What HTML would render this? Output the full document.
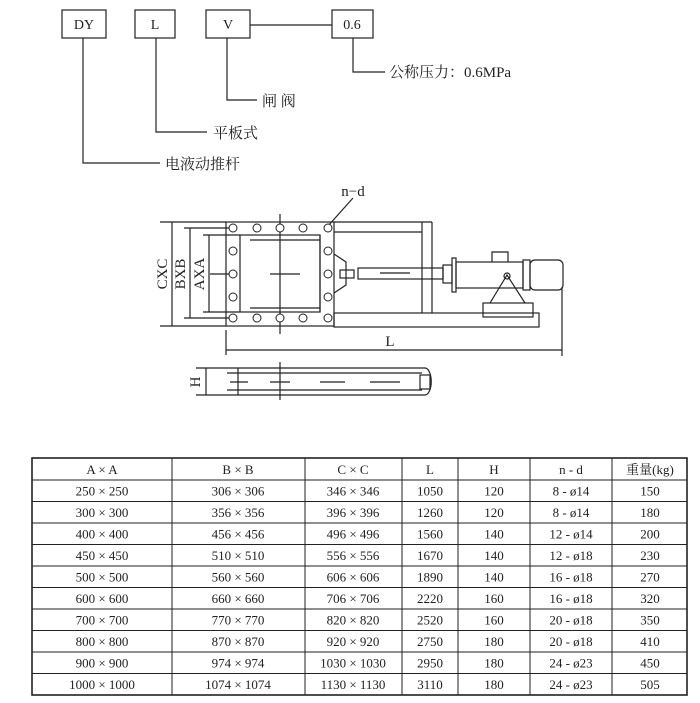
<!DOCTYPE html>
<html><head><meta charset="utf-8"><style>
body{margin:0;background:#fff;width:700px;height:703px;overflow:hidden}
svg{display:block}
text{font-family:"Liberation Serif","Noto Serif CJK SC",serif;fill:#222}
</style></head><body>
<svg width="700" height="703" viewBox="0 0 700 703" xmlns="http://www.w3.org/2000/svg">
<g fill="none" stroke="#222" stroke-width="1.2">
<rect x="62" y="10" width="44" height="28"/>
<rect x="135" y="10" width="40" height="28"/>
<rect x="206" y="10" width="44" height="28"/>
<rect x="332" y="10" width="41" height="28"/>
<line x1="250" y1="25" x2="332" y2="25"/>
<polyline points="83,38 83,163 160,163"/>
<polyline points="156,38 156,132 207,132"/>
<polyline points="227,38 227,100 257,100"/>
<polyline points="353,38 353,72 385,72"/>
</g>
<g font-size="14" text-anchor="middle">
<text x="84" y="29">DY</text><text x="155" y="29">L</text><text x="228" y="29">V</text><text x="352" y="29">0.6</text>
</g>
<g font-size="15">
<text x="389" y="77">公称压力：0.6MPa</text>
<text x="262" y="106">闸 阀</text>
<text x="213" y="138">平板式</text>
<text x="165" y="169">电液动推杆</text>
</g>

<g fill="none" stroke="#222" stroke-width="1.2">
<rect x="226" y="222" width="108" height="104"/>
<rect x="240" y="235" width="80" height="77"/>
<line x1="320" y1="235" x2="320" y2="312"/>
<line x1="250" y1="240" x2="320" y2="240"/><line x1="250" y1="308" x2="320" y2="308"/>
<line x1="334" y1="222" x2="432" y2="222"/>
<line x1="422" y1="222" x2="422" y2="313"/><line x1="432" y1="222" x2="432" y2="313"/>
<line x1="334" y1="232" x2="422" y2="232"/>
<rect x="334" y="313" width="205" height="14"/>
<polyline points="334,254 346,262 346,285 334,293"/>
<rect x="340" y="270" width="14" height="8"/>
<rect x="358" y="268" width="85" height="11"/>
<line x1="380" y1="273" x2="410" y2="273"/>
<rect x="443" y="265" width="9" height="18"/>
<rect x="452" y="258" width="4" height="34"/>
<rect x="456" y="262" width="67" height="26"/>
<path d="M492,262 v-10 h16 v10"/>
<rect x="523" y="260" width="7" height="30"/>
<rect x="530" y="260" width="33" height="30" rx="5"/>
<polyline points="490,303 507,275 525,303"/>
<circle cx="507" cy="276" r="3"/>
<rect x="483" y="303" width="50" height="14"/>
<line x1="172" y1="222" x2="172" y2="326"/>
<line x1="160" y1="222" x2="226" y2="222"/><line x1="160" y1="326" x2="226" y2="326"/>
<line x1="190" y1="228" x2="190" y2="318"/>
<line x1="184" y1="228" x2="230" y2="228"/><line x1="184" y1="318" x2="230" y2="318"/>
<line x1="209" y1="235" x2="209" y2="312"/>
<line x1="203" y1="235" x2="240" y2="235"/><line x1="203" y1="312" x2="240" y2="312"/>
<line x1="226" y1="330" x2="226" y2="355"/><line x1="562" y1="287" x2="562" y2="356"/>
<line x1="226" y1="350" x2="562" y2="350"/>
<line x1="280" y1="214" x2="280" y2="334"/>
<line x1="270" y1="274" x2="300" y2="274"/>
<line x1="210" y1="274" x2="236" y2="274"/>
<line x1="353" y1="198" x2="328" y2="226"/>
<path d="M227,368 H425 a6,13 0 0 1 0,27 H227"/>
<line x1="227" y1="373" x2="422" y2="373"/><line x1="227" y1="390" x2="422" y2="390"/>
<line x1="238" y1="368" x2="238" y2="395"/>
<rect x="420" y="375" width="10" height="14"/>
<line x1="196" y1="368" x2="227" y2="368"/><line x1="196" y1="395" x2="227" y2="395"/>
<line x1="206" y1="368" x2="206" y2="395"/>
<line x1="280" y1="362" x2="280" y2="400"/>
<line x1="230" y1="382" x2="248" y2="382"/><line x1="270" y1="382" x2="290" y2="382"/>
<line x1="320" y1="382" x2="345" y2="382"/><line x1="370" y1="382" x2="400" y2="382"/>
</g>
<g fill="#fff" stroke="#222" stroke-width="1">
<circle cx="233" cy="228" r="4"/><circle cx="257" cy="228" r="4"/><circle cx="280" cy="228" r="4"/><circle cx="303" cy="228" r="4"/><circle cx="328" cy="228" r="4"/>
<circle cx="233" cy="318" r="4"/><circle cx="257" cy="318" r="4"/><circle cx="280" cy="318" r="4"/><circle cx="303" cy="318" r="4"/><circle cx="328" cy="318" r="4"/>
<circle cx="233" cy="251" r="4"/><circle cx="233" cy="274" r="4"/><circle cx="233" cy="297" r="4"/>
<circle cx="328" cy="251" r="4"/><circle cx="328" cy="274" r="4"/><circle cx="328" cy="297" r="4"/>
</g>
<g font-size="15" text-anchor="middle">
<text x="353" y="196">n−d</text>
<text x="390" y="346">L</text>
<text transform="translate(167,274) rotate(-90)">CXC</text>
<text transform="translate(185,274) rotate(-90)">BXB</text>
<text transform="translate(204,274) rotate(-90)">AXA</text>
<text transform="translate(200,382) rotate(-90)">H</text>
</g>

<g stroke="#222" fill="none">
<rect x="32" y="458" width="655" height="237" stroke-width="1.6"/>
<g stroke-width="1">
<line x1="32" y1="480" x2="687" y2="480"/><line x1="32" y1="501.5" x2="687" y2="501.5"/>
<line x1="32" y1="523" x2="687" y2="523"/><line x1="32" y1="544.5" x2="687" y2="544.5"/>
<line x1="32" y1="566" x2="687" y2="566"/><line x1="32" y1="587.5" x2="687" y2="587.5"/>
<line x1="32" y1="609" x2="687" y2="609"/><line x1="32" y1="630.5" x2="687" y2="630.5"/>
<line x1="32" y1="652" x2="687" y2="652"/><line x1="32" y1="673.5" x2="687" y2="673.5"/>
<line x1="172" y1="458" x2="172" y2="695"/><line x1="305" y1="458" x2="305" y2="695"/>
<line x1="402" y1="458" x2="402" y2="695"/><line x1="458" y1="458" x2="458" y2="695"/>
<line x1="530" y1="458" x2="530" y2="695"/><line x1="612" y1="458" x2="612" y2="695"/>
</g></g>
<g font-size="13" text-anchor="middle">
<g transform="translate(0,474)"><text x="102">A × A</text><text x="238">B × B</text><text x="353">C × C</text><text x="430">L</text><text x="494">H</text><text x="571">n - d</text><text x="650">重量(kg)</text></g>
<g transform="translate(0,495.5)"><text x="102">250 × 250</text><text x="238">306 × 306</text><text x="353">346 × 346</text><text x="430">1050</text><text x="494">120</text><text x="571">8 - ø14</text><text x="650">150</text></g>
<g transform="translate(0,517)"><text x="102">300 × 300</text><text x="238">356 × 356</text><text x="353">396 × 396</text><text x="430">1260</text><text x="494">120</text><text x="571">8 - ø14</text><text x="650">180</text></g>
<g transform="translate(0,538.5)"><text x="102">400 × 400</text><text x="238">456 × 456</text><text x="353">496 × 496</text><text x="430">1560</text><text x="494">140</text><text x="571">12 - ø14</text><text x="650">200</text></g>
<g transform="translate(0,560)"><text x="102">450 × 450</text><text x="238">510 × 510</text><text x="353">556 × 556</text><text x="430">1670</text><text x="494">140</text><text x="571">12 - ø18</text><text x="650">230</text></g>
<g transform="translate(0,581.5)"><text x="102">500 × 500</text><text x="238">560 × 560</text><text x="353">606 × 606</text><text x="430">1890</text><text x="494">140</text><text x="571">16 - ø18</text><text x="650">270</text></g>
<g transform="translate(0,603)"><text x="102">600 × 600</text><text x="238">660 × 660</text><text x="353">706 × 706</text><text x="430">2220</text><text x="494">160</text><text x="571">16 - ø18</text><text x="650">320</text></g>
<g transform="translate(0,624.5)"><text x="102">700 × 700</text><text x="238">770 × 770</text><text x="353">820 × 820</text><text x="430">2520</text><text x="494">160</text><text x="571">20 - ø18</text><text x="650">350</text></g>
<g transform="translate(0,646)"><text x="102">800 × 800</text><text x="238">870 × 870</text><text x="353">920 × 920</text><text x="430">2750</text><text x="494">180</text><text x="571">20 - ø18</text><text x="650">410</text></g>
<g transform="translate(0,667.5)"><text x="102">900 × 900</text><text x="238">974 × 974</text><text x="353">1030 × 1030</text><text x="430">2950</text><text x="494">180</text><text x="571">24 - ø23</text><text x="650">450</text></g>
<g transform="translate(0,689)"><text x="102">1000 × 1000</text><text x="238">1074 × 1074</text><text x="353">1130 × 1130</text><text x="430">3110</text><text x="494">180</text><text x="571">24 - ø23</text><text x="650">505</text></g>
</g>
</svg>
</body></html>
